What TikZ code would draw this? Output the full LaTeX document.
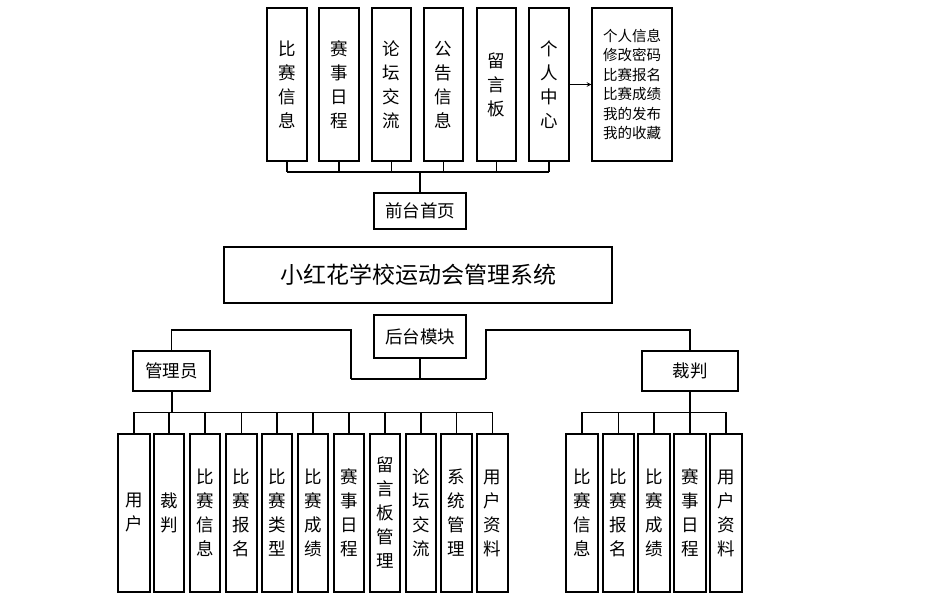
\documentclass[tikz,border=0pt]{standalone}
\usepackage{fontspec}
\usetikzlibrary{calc}
\newfontfamily\cjk{Noto Sans CJK SC}
\begin{document}
\begin{tikzpicture}[x=1pt,y=-1pt,line width=1.1pt,
  bx/.style={draw,inner sep=0pt,font=\cjk\fontsize{17.5}{24}\selectfont,align=center},
  trunk/.style={line width=2pt}]
\useasboundingbox (0,0) rectangle (938,598);
% top row
\foreach \n/\xa/\xb/\t in {t1/267/307/{比\\赛\\信\\息},t2/319/359/{赛\\事\\日\\程},t3/372/411/{论\\坛\\交\\流},t4/424/463/{公\\告\\信\\息},t5/477/516/{留\\言\\板},t6/529/569/{个\\人\\中\\心}}
  \node[bx,minimum width={\xb-\xa},minimum height=153] (\n) at ({(\xa+\xb)/2},84.5) {\t};
\node[bx,minimum width=80,minimum height=153,font=\cjk\fontsize{14.5}{19.5}\selectfont] (info) at (632,84.5) {个人信息\\修改密码\\比赛报名\\比赛成绩\\我的发布\\我的收藏};
\draw[->,>=stealth] (t6.east) -- (info.west);
\node[bx,minimum width=92,minimum height=36] (qt) at (420,211) {前台首页};
\node[bx,minimum width=388,minimum height=56,font=\cjk\fontsize{23}{26}\selectfont] (sys) at (418,275) {小红花学校运动会管理系统};
\node[bx,minimum width=92,minimum height=43] (ht) at (420,336.5) {后台模块};
\node[bx,minimum width=77,minimum height=40] (gly) at (171.5,371) {管理员};
\node[bx,minimum width=96,minimum height=40] (cp) at (690,371) {裁判};
\coordinate (tb) at (420,172);
\foreach \n in {t1,t2,t3,t4,t5,t6} \draw (\n.south) -- (\n.south |- tb);
\draw (t1.south |- tb) -- (t6.south |- tb);
\draw[trunk] (tb) -- (qt.north);
\draw (qt.south) -- (sys.north|-qt.south);
\draw (ht.south) -- (420,379);
\draw (351,379) -- (486,379);
\draw (gly.north) |- (351,330) -- (351,379);
\draw (cp.north) |- (486,330) -- (486,379);
% left bottom
\foreach \n/\xa/\xb/\t in {a1/118/150/{用\\户},a2/154/184/{裁\\判},a3/190/220/{比\\赛\\信\\息},a4/226/257/{比\\赛\\报\\名},a5/262/292/{比\\赛\\类\\型},a6/298/328/{比\\赛\\成\\绩},a7/334/364/{赛\\事\\日\\程},a8/370/400/{留\\言\\板\\管\\理},a9/406/436/{论\\坛\\交\\流},a10/441/472/{系\\统\\管\\理},a11/477/508/{用\\户\\资\\料}}
  {\node[bx,minimum width={\xb-\xa},minimum height=158] (\n) at ({(\xa+\xb)/2},513) {\t};
   \draw (\n.north) -- ++(0,-21);}
\draw ($(a1.north)+(0,-21)$) -- ($(a11.north)+(0,-21)$);
\draw[trunk] (gly.south) -- (171.5,413);
\foreach \n/\xa/\xb/\t in {b1/566/598/{比\\赛\\信\\息},b2/603/634/{比\\赛\\报\\名},b3/638/670/{比\\赛\\成\\绩},b4/674/706/{赛\\事\\日\\程},b5/710/742/{用\\户\\资\\料}}
  {\node[bx,minimum width={\xb-\xa},minimum height=158] (\n) at ({(\xa+\xb)/2},513) {\t};
   \draw (\n.north) -- ++(0,-21);}
\draw ($(b1.north)+(0,-21)$) -- ($(b5.north)+(0,-21)$);
\draw[trunk] (cp.south) -- (690,413);
\end{tikzpicture}
\end{document}
